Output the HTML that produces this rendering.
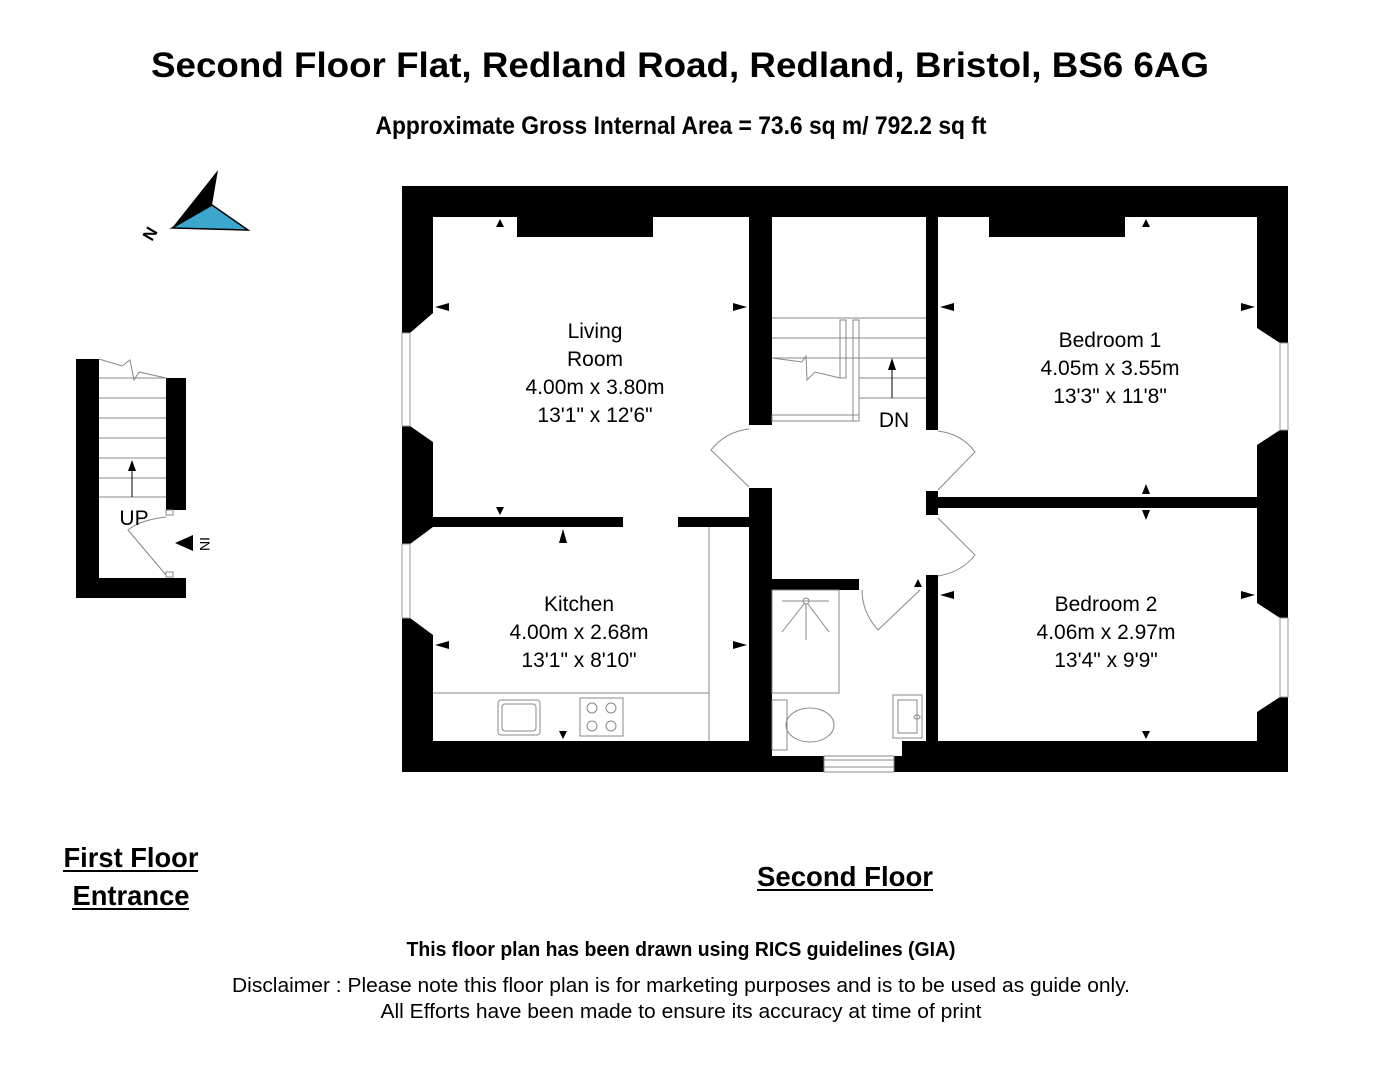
<!DOCTYPE html>
<html><head><meta charset="utf-8"><style>
html,body{margin:0;padding:0;background:#fff;}
svg{display:block;}
</style></head><body>
<svg width="1375" height="1080" viewBox="0 0 1375 1080" xmlns="http://www.w3.org/2000/svg" font-family="Liberation Sans, Arial, sans-serif">
<rect width="1375" height="1080" fill="#fff"/>
<!-- Titles -->
<text x="680" y="77" font-size="35" font-weight="bold" text-anchor="middle" textLength="1058" lengthAdjust="spacingAndGlyphs">Second Floor Flat, Redland Road, Redland, Bristol, BS6 6AG</text>
<text x="681" y="134" font-size="25" font-weight="bold" text-anchor="middle" textLength="611" lengthAdjust="spacingAndGlyphs">Approximate Gross Internal Area = 73.6 sq m/ 792.2 sq ft</text>

<!-- Compass -->
<polygon points="172,228 218,170 212,205" fill="#000"/>
<polygon points="172,228 212,205 248,230" fill="#3ba7cc" stroke="#000" stroke-width="1.5"/>
<text x="0" y="0" font-size="17" font-weight="bold" transform="translate(152,242) rotate(-60)">N</text>

<!-- Main plan outer walls -->
<rect x="402" y="186" width="886" height="586" fill="#000"/>
<rect x="433" y="217" width="824" height="524" fill="#fff"/>
<!-- bathroom floor extension -->
<rect x="772" y="740" width="130" height="16" fill="#fff"/>
<rect x="824" y="756" width="70" height="16" fill="#fff"/>
<line x1="824" y1="760" x2="894" y2="760" stroke="#888" stroke-width="1"/>
<line x1="824" y1="767" x2="894" y2="767" stroke="#888" stroke-width="1"/>
<rect x="824" y="756" width="70" height="16" fill="none" stroke="#888" stroke-width="1"/>

<!-- left windows -->
<polygon points="433,313 410,333 410,426 433,442" fill="#fff"/>
<rect x="402" y="333" width="8" height="93" fill="#fff" stroke="#999" stroke-width="1"/>
<polygon points="433,527 410,544 410,618 433,635" fill="#fff"/>
<rect x="402" y="544" width="8" height="74" fill="#fff" stroke="#999" stroke-width="1"/>
<!-- right windows -->
<polygon points="1257,328 1280,343 1280,430 1257,445" fill="#fff"/>
<rect x="1280" y="343" width="8" height="87" fill="#fff" stroke="#999" stroke-width="1"/>
<polygon points="1257,603 1280,618 1280,697 1257,712" fill="#fff"/>
<rect x="1280" y="618" width="8" height="79" fill="#fff" stroke="#999" stroke-width="1"/>

<!-- top thick segments -->
<rect x="517" y="217" width="136" height="20" fill="#000"/>
<rect x="989" y="217" width="136" height="20" fill="#000"/>

<!-- internal walls -->
<rect x="749" y="217" width="23" height="208" fill="#000"/>
<rect x="749" y="488" width="23" height="253" fill="#000"/>
<rect x="926" y="217" width="12" height="213" fill="#000"/>
<rect x="926" y="491" width="12" height="24" fill="#000"/>
<rect x="926" y="575" width="12" height="166" fill="#000"/>
<rect x="938" y="497" width="319" height="11" fill="#000"/>
<rect x="433" y="517" width="190" height="10" fill="#000"/>
<rect x="678" y="517" width="71" height="10" fill="#000"/>
<rect x="772" y="579" width="87" height="11" fill="#000"/>

<!-- stair -->
<g stroke="#888" stroke-width="1" fill="none">
<line x1="772" y1="318" x2="926" y2="318"/>
<line x1="772" y1="338" x2="926" y2="338"/>
<line x1="772" y1="358" x2="926" y2="358"/>
<line x1="859" y1="378" x2="926" y2="378"/>
<line x1="859" y1="398" x2="926" y2="398"/>
<polyline points="772,358 802,362 806,356 807,380 815,372 840,378"/>
<rect x="840" y="320" width="6" height="58"/>
<rect x="853" y="320" width="6" height="101"/>
<rect x="772" y="415" width="87" height="6"/>
</g>
<line x1="892" y1="398" x2="892" y2="368" stroke="#000" stroke-width="1"/>
<polygon points="888,370 896,370 892,358" fill="#000"/>
<text x="894" y="427" font-size="21" text-anchor="middle">DN</text>

<!-- doors -->
<g stroke="#888" stroke-width="1" fill="none">
<path d="M749,429 Q725,432 711,450 L749,487"/>
<path d="M938,431 Q962,434 975,452 L938,490"/>
<path d="M938,518 L975,555 Q962,572 938,576"/>
<path d="M862,590 Q862,612 878,630 L920,590"/>
<path d="M166,517 Q140,520 128,530 L166,575"/>
</g>

<!-- kitchen -->
<g stroke="#888" stroke-width="1" fill="none">
<line x1="709" y1="527" x2="709" y2="741"/>
<line x1="433" y1="693" x2="709" y2="693"/>
<rect x="498" y="700" width="42" height="35" rx="3"/>
<rect x="502" y="704" width="34" height="27" rx="3"/>
<rect x="580" y="698" width="43" height="38"/>
<circle cx="592" cy="708" r="5"/><circle cx="611" cy="708" r="5"/>
<circle cx="592" cy="726" r="5"/><circle cx="611" cy="726" r="5"/>
</g>
<!-- bathroom -->
<g stroke="#888" stroke-width="1" fill="none">
<rect x="772" y="590" width="67" height="103"/>
<line x1="782" y1="601" x2="829" y2="601"/>
<circle cx="806" cy="601" r="3"/>
<line x1="806" y1="604" x2="806" y2="640"/>
<line x1="804" y1="604" x2="782" y2="632"/>
<line x1="808" y1="604" x2="829" y2="632"/>
<rect x="772" y="700" width="15" height="50"/>
<ellipse cx="810" cy="725" rx="24" ry="17"/>
<rect x="893" y="695" width="29" height="43"/>
<rect x="898" y="700" width="19" height="33"/>
<ellipse cx="917" cy="717" rx="3" ry="2"/>
</g>

<!-- wall markers (small triangles) -->
<g fill="#000">
<polygon points="496,227 504,227 500,219"/>
<polygon points="1142,227 1150,227 1146,219"/>
<polygon points="435,307 449,303 449,311"/>
<polygon points="747,307 733,303 733,311"/>
<polygon points="940,307 954,303 954,311"/>
<polygon points="1255,307 1241,303 1241,311"/>
<polygon points="496,507 504,507 500,515"/>
<polygon points="559,543 567,543 563,529"/>
<polygon points="1142,494 1150,494 1146,484"/>
<polygon points="1142,510 1150,510 1146,520"/>
<polygon points="435,645 449,641 449,649"/>
<polygon points="747,645 733,641 733,649"/>
<polygon points="940,595 954,591 954,599"/>
<polygon points="1255,595 1241,591 1241,599"/>
<polygon points="559,731 567,731 563,739"/>
<polygon points="1142,731 1150,731 1146,739"/>
<polygon points="914,587 922,587 918,579"/>
</g>

<!-- room labels -->
<g font-size="21" text-anchor="middle">
<text x="595" y="338">Living</text>
<text x="595" y="366">Room</text>
<text x="595" y="394">4.00m x 3.80m</text>
<text x="595" y="422">13'1" x 12'6"</text>
<text x="579" y="611">Kitchen</text>
<text x="579" y="639">4.00m x 2.68m</text>
<text x="579" y="667">13'1" x 8'10"</text>
<text x="1110" y="347">Bedroom 1</text>
<text x="1110" y="375">4.05m x 3.55m</text>
<text x="1110" y="403">13'3" x 11'8"</text>
<text x="1106" y="611">Bedroom 2</text>
<text x="1106" y="639">4.06m x 2.97m</text>
<text x="1106" y="667">13'4" x 9'9"</text>
</g>

<!-- first floor entrance plan -->
<rect x="76" y="359" width="23" height="239" fill="#000"/>
<rect x="76" y="578" width="110" height="20" fill="#000"/>
<rect x="166" y="378" width="20" height="132" fill="#000"/>
<g stroke="#888" stroke-width="1" fill="none">
<polyline points="99,359 122,366 130,360 134,380 139,372 166,378"/>
<line x1="99" y1="378" x2="166" y2="378"/>
<line x1="99" y1="398" x2="166" y2="398"/>
<line x1="99" y1="418" x2="166" y2="418"/>
<line x1="99" y1="438" x2="166" y2="438"/>
<line x1="99" y1="458" x2="166" y2="458"/>
<line x1="99" y1="478" x2="166" y2="478"/>
<line x1="99" y1="497" x2="166" y2="497"/>
<rect x="166" y="510" width="7" height="5"/>
<rect x="166" y="572" width="7" height="5"/>
</g>
<line x1="132" y1="497" x2="132" y2="470" stroke="#000" stroke-width="1"/>
<polygon points="128,471 136,471 132,460" fill="#000"/>
<text x="134" y="525" font-size="21" text-anchor="middle">UP</text>
<polygon points="175,543 193,535 193,551" fill="#000"/>
<text x="0" y="0" font-size="14" transform="translate(200,537) rotate(90)">IN</text>

<!-- floor labels -->
<g font-size="28" font-weight="bold" text-anchor="middle">
<text x="131" y="867" textLength="135" lengthAdjust="spacingAndGlyphs">First Floor</text>
<text x="131" y="905" textLength="117" lengthAdjust="spacingAndGlyphs">Entrance</text>
<text x="845" y="886" textLength="176" lengthAdjust="spacingAndGlyphs">Second Floor</text>
</g>
<g fill="#000">
<rect x="63" y="870" width="135" height="2"/>
<rect x="72" y="908" width="117" height="2"/>
<rect x="757" y="889" width="176" height="2"/>
</g>

<!-- footer -->
<text x="681" y="956" font-size="20" font-weight="bold" text-anchor="middle" textLength="549" lengthAdjust="spacingAndGlyphs">This floor plan has been drawn using RICS guidelines (GIA)</text>
<text x="681" y="992" font-size="20" text-anchor="middle" textLength="898" lengthAdjust="spacingAndGlyphs">Disclaimer : Please note this floor plan is for marketing purposes and is to be used as guide only.</text>
<text x="681" y="1018" font-size="20" text-anchor="middle" textLength="601" lengthAdjust="spacingAndGlyphs">All Efforts have been made to ensure its accuracy at time of print</text>
</svg>
</body></html>
